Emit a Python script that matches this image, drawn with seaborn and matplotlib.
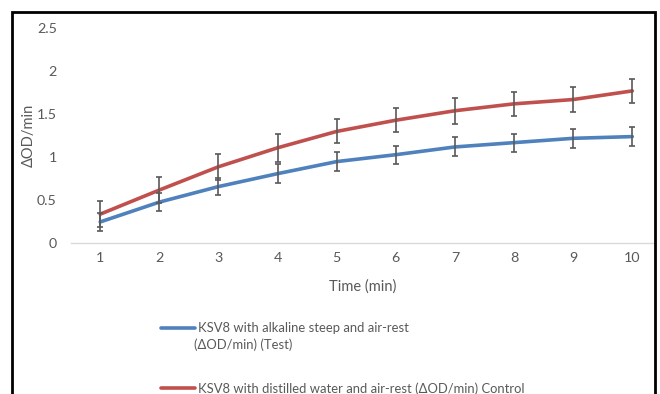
import matplotlib
matplotlib.use("Agg")
import matplotlib.pyplot as plt
from matplotlib.patches import Rectangle
from matplotlib.lines import Line2D
import numpy as np
import pandas as pd
import seaborn as sns

# values
time_min = [1, 2, 3, 4, 5, 6, 7, 8, 9, 10]
test_od = [0.25, 0.48, 0.66, 0.81, 0.95, 1.03, 1.12, 1.17, 1.22, 1.24]
test_err = [0.10, 0.10, 0.10, 0.11, 0.11, 0.105, 0.11, 0.105, 0.11, 0.11]
control_od = [0.34, 0.62, 0.89, 1.11, 1.30, 1.43, 1.54, 1.62, 1.67, 1.77]
control_err = [0.15, 0.15, 0.15, 0.16, 0.14, 0.14, 0.15, 0.14, 0.14, 0.14]

test_label = "KSV8 with alkaline steep and air-rest"
test_label_2 = "(ΔOD/min) (Test)"
control_label = "KSV8 with distilled water and air-rest (ΔOD/min) Control"
y_ticks = [0, 0.5, 1, 1.5, 2, 2.5]
y_ticklabels = ["0", "0.5", "1", "1.5", "2", "2.5"]

blue = "#4F81BD"
red = "#C0504D"
grey = "#595959"

df = pd.DataFrame({
    "time": time_min * 2,
    "od": test_od + control_od,
    "series": [test_label] * len(time_min) + [control_label] * len(time_min),
})

sns.set_style("white")
plt.rcParams["font.family"] = ["Lato", "DejaVu Sans"]

fig = plt.figure(figsize=(6.6, 3.94), dpi=100)
ax = fig.add_axes([0.107, 0.382, 0.886, 0.547])

sns.lineplot(data=df, x="time", y="od", hue="series",
             palette={test_label: blue, control_label: red},
             linewidth=2.6, ax=ax, legend=False, zorder=2)

ax.errorbar(time_min, test_od, yerr=test_err, fmt="none", ecolor=grey,
            elinewidth=1.2, capsize=2.3, capthick=1.2, zorder=3)
ax.errorbar(time_min, control_od, yerr=control_err, fmt="none", ecolor=grey,
            elinewidth=1.2, capsize=2.3, capthick=1.2, zorder=3)

ax.set_xlim(0.5, 10.39)
ax.set_ylim(0, 2.5)
ax.set_xticks(time_min)
ax.set_xticklabels([str(t) for t in time_min])
ax.set_yticks(y_ticks)
ax.set_yticklabels(y_ticklabels)
ax.tick_params(axis="both", length=0, labelsize=10.3, colors=grey)
ax.tick_params(axis="x", pad=6)
ax.tick_params(axis="y", pad=10)

for side in ["top", "right", "left"]:
    ax.spines[side].set_visible(False)
ax.spines["bottom"].set_color("#D9D9D9")
ax.spines["bottom"].set_linewidth(1.0)

ax.set_xlabel("Time (min)", fontsize=10.5, color=grey, labelpad=11)
ax.set_ylabel("ΔOD/min", fontsize=10.5, color=grey, labelpad=1)

handles = [Line2D([], [], color=blue, linewidth=2.6),
           Line2D([], [], color=red, linewidth=2.6)]
leg = fig.legend(handles, [test_label, control_label], loc="upper left",
                 bbox_to_anchor=(0.236, 0.195), frameon=False, fontsize=9.4,
                 handlelength=2.6, handletextpad=0.25, labelspacing=3.65,
                 labelcolor=grey, borderaxespad=0)
fig.text(194 / 660, 1 - 345 / 394, test_label_2, fontsize=9.4, color=grey,
         va="center", ha="left")

# outer frame like the pasted chart border
fig.patches.append(Rectangle((12 / 660, -0.1), 643 / 660, 1.1 - 12.5 / 394,
                             transform=fig.transFigure, fill=False,
                             edgecolor="black", linewidth=2, clip_on=False))

fig.savefig("out.png", dpi=100)
